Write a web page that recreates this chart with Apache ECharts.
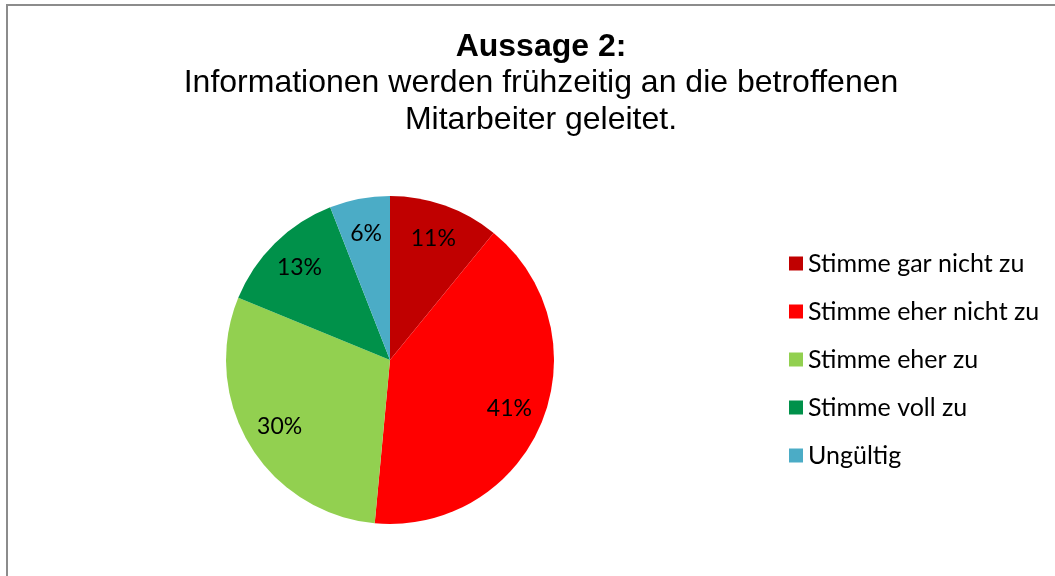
<!DOCTYPE html>
<html>
<head>
<meta charset="utf-8">
<script src="https://cdn.jsdelivr.net/npm/echarts@6/dist/echarts.min.js"></script>
<style>
    html, body { margin: 0; padding: 0; background: #fff; }
    #chart { width: 1055px; height: 576px; }
    /* grauer Rahmen wie im Original */
    .frame {
        position: absolute; left: 6px; top: 4px; width: 1200px; height: 700px;
        border-left: 2px solid #8c8c8c; border-top: 2px solid #8c8c8c;
        pointer-events: none;
    }
</style>
</head>
<body>
<div id="chart"></div>
<div class="frame"></div>
<script>
    var categories = ['Stimme gar nicht zu', 'Stimme eher nicht zu', 'Stimme eher zu', 'Stimme voll zu', 'Ungültig'];
    var values = [11, 41, 30, 13, 6];
    var colors = ['#C00000', '#FF0000', '#92D050', '#00914A', '#4BACC6'];

    var pieData = categories.map(function (name, i) {
        return { name: name, value: values[i], itemStyle: { color: colors[i] } };
    });

    var myChart = echarts.init(document.getElementById('chart'));
    var option = {
        animation: false,
        title: {
            text: 'Aussage 2:',
            subtext: 'Informationen werden frühzeitig an die betroffenen\nMitarbeiter geleitet.',
            left: 536,
            top: 24,
            textAlign: 'center',
            itemGap: 0,
            textStyle: { fontFamily: 'Liberation Sans', fontSize: 32, fontWeight: 'bold', color: '#000', lineHeight: 36 },
            subtextStyle: { fontFamily: 'Liberation Sans', fontSize: 32, color: '#000', lineHeight: 37, align: 'center' }
        },
        legend: {
            orient: 'vertical',
            left: 784,
            top: 246,
            itemWidth: 14,
            itemHeight: 14,
            itemGap: 23,
            icon: 'rect',
            textStyle: { fontFamily: 'Lato', fontSize: 25, color: '#000', lineHeight: 25 },
            data: categories
        },
        series: [
            {
                type: 'pie',
                center: [390, 360],
                radius: 164,
                startAngle: 90,
                label: { show: false },
                labelLine: { show: false },
                silent: true,
                data: pieData
            },
            {
                // nur für die Beschriftungen, etwas weiter außen
                type: 'pie',
                center: [390, 360],
                radius: [88, 164],
                startAngle: 90,
                itemStyle: { color: 'transparent' },
                label: {
                    show: true,
                    position: 'inside',
                    formatter: '{c}%',
                    fontFamily: 'Lato',
                    fontSize: 23,
                    color: '#000'
                },
                labelLine: { show: false },
                silent: true,
                data: categories.map(function (name, i) {
                    return { name: name, value: values[i], itemStyle: { color: 'transparent' } };
                })
            }
        ]
    };
    myChart.setOption(option);
</script>
</body>
</html>
